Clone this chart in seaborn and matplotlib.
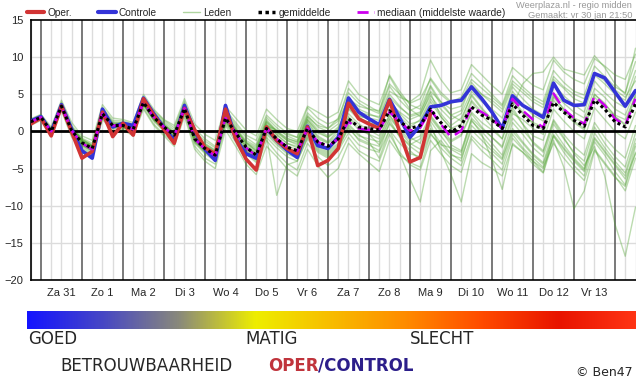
"""Pluim (ensemble) temperatuurverwachting, regio midden."""

import matplotlib

matplotlib.use("Agg")
import matplotlib.pyplot as plt
import numpy as np
import pandas as pd
import seaborn as sns
from matplotlib.colors import LinearSegmentedColormap
from matplotlib.lines import Line2D

# 6-uurlijkse stappen, stap 0 = vr 30 jan 18u
steps = list(range(60))
day_labels = ["Za 31", "Zo 1", "Ma 2", "Di 3", "Wo 4", "Do 5", "Vr 6",
              "Za 7", "Zo 8", "Ma 9", "Di 10", "Wo 11", "Do 12", "Vr 13"]

oper = [1.0, 1.8, -0.6, 3.4, -0.1, -3.6, -2.7, 2.6, -0.7, 1.1,
        -0.5, 4.4, 2.2, 0.3, -1.6, 3.1, 0.2, -2.2, -3.0, 3.0,
        -1.0, -3.7, -5.2, 0.6, -1.2, -2.3, -3.0, 0.6, -4.6, -3.9,
        -2.3, 3.8, 1.7, 1.0, 0.4, 4.2, -0.1, -4.1, -3.5, 2.4]
controle = [1.4, 2.0, -0.1, 3.6, 0.3, -2.6, -3.6, 3.0, 0.6, 1.1,
            0.8, 4.5, 2.4, 0.5, -1.2, 3.5, 0.0, -2.4, -3.9, 3.5,
            -1.0, -3.0, -3.6, 0.4, -1.2, -2.5, -3.5, 0.7, -1.9, -2.3,
            -0.8, 4.5, 2.6, 1.7, 0.9, 4.3, 1.8, -0.8, 0.8, 3.3,
            3.5, 4.0, 4.2, 6.0, 4.4, 2.6, 0.4, 4.8, 3.5, 2.7,
            1.9, 6.5, 4.2, 3.5, 3.6, 7.8, 7.2, 5.3, 3.4, 5.5]
gemiddelde = [1.3, 1.9, 0.0, 3.4, 0.1, -1.5, -2.3, 2.4, 0.8, 0.8,
              0.3, 3.9, 1.9, 0.6, -0.5, 3.1, -1.0, -2.3, -3.2, 1.8,
              -0.2, -2.1, -3.2, 0.4, -1.0, -2.1, -2.6, 0.4, -1.4, -2.0,
              -1.0, 1.7, 0.6, 0.4, 0.2, 2.8, 1.3, 0.4, 0.8, 3.0,
              1.2, -0.1, 0.8, 3.3, 2.2, 1.5, 0.4, 3.7, 2.2, 0.8,
              0.4, 3.9, 2.6, 1.5, 0.7, 4.2, 3.0, 1.3, 0.6, 3.7]
mediaan = [1.3, 1.9, 0.0, 3.4, 0.1, -1.6, -2.4, 2.4, 0.8, 0.8,
           0.3, 3.9, 1.9, 0.6, -0.6, 3.1, -1.0, -2.4, -3.3, 1.8,
           -0.2, -2.2, -3.3, 0.4, -1.0, -2.1, -2.6, 0.4, -1.4, -2.0,
           -1.0, 1.3, 0.4, 0.2, 0.2, 2.6, 1.3, 0.1, 0.5, 2.9,
           1.0, -0.8, 0.1, 3.3, 2.6, 1.7, 0.4, 4.4, 2.8, 1.6,
           0.5, 5.1, 3.0, 1.8, 1.0, 4.8, 3.5, 1.7, 0.8, 4.4]

lid_01 = [1.6, 2.2, 0.4, 3.9, 0.8, -0.9, -1.6, 3.2, 1.5, 1.4,
          1.0, 4.6, 2.8, 1.5, 0.5, 4.0, 0.4, -1.0, -2.0, 3.0,
          1.2, -0.5, -1.2, 2.2, 0.9, -0.2, -0.8, 2.5, 1.2, 0.4,
          1.8, 5.2, 3.8, 3.0, 2.4, 6.1, 4.2, 2.8, 3.5, 7.2,
          5.3, 4.0, 4.6, 7.8, 6.4, 5.0, 3.6, 7.5, 6.0, 4.8,
          4.0, 8.2, 6.6, 5.4, 4.9, 8.8, 7.4, 6.0, 5.2, 9.4]
lid_02 = [1.0, 1.6, -0.4, 3.0, -0.5, -2.2, -3.0, 1.8, 0.2, 0.3,
          -0.3, 3.2, 1.0, -0.4, -1.6, 2.4, -2.0, -3.6, -4.4, 0.8,
          -1.5, -3.8, -5.0, -1.2, -2.9, -4.3, -5.2, -1.6, -3.4, -4.6,
          -3.5, -0.8, -2.6, -3.4, -4.0, -0.4, -2.8, -4.5, -5.2, -1.2,
          -3.0, -4.6, -5.5, -1.0, -2.6, -3.8, -5.2, -0.9, -2.4, -4.0,
          -5.5, -0.6, -2.8, -4.6, -6.0, -1.4, -3.2, -5.4, -7.2, -2.0]
lid_03 = [1.2, 2.0, 0.2, 3.6, 0.4, -1.2, -2.0, 2.8, 1.0, 1.0,
          0.5, 4.2, 2.2, 0.8, -0.2, 3.4, -0.6, -1.9, -2.8, 2.2,
          0.3, -1.5, -2.6, 1.0, -0.5, -1.6, -2.2, 1.4, -0.6, -1.4,
          0.2, 3.4, 1.8, 1.2, 0.6, 4.0, 2.0, 0.6, 1.6, 4.4,
          2.4, 0.8, 1.8, 4.8, 3.0, 1.6, 0.2, 3.2, 1.0, -1.6,
          -2.8, 1.4, -0.8, -3.0, -4.6, -2.0, -6.0, -12.5, -16.8, -10.2]
lid_04 = [1.5, 2.1, 0.2, 3.8, 0.5, -1.0, -1.9, 2.9, 1.3, 1.2,
          0.7, 4.3, 2.4, 1.1, -0.1, 3.6, -0.4, -1.6, -2.5, 2.6,
          0.6, -1.2, -2.0, 1.6, 0.1, -0.9, -1.4, 1.9, 0.2, -0.6,
          0.6, 3.1, 2.0, 1.8, 1.5, 4.6, 3.2, 2.2, 2.6, 5.4,
          4.0, 3.0, 3.4, 6.2, 5.0, 4.2, 3.0, 6.4, 5.2, 4.0,
          3.2, 7.0, 5.8, 4.4, 3.8, 7.6, 6.4, 5.0, 4.2, 8.2]
lid_05 = [1.1, 1.7, -0.2, 3.2, -0.2, -1.8, -2.6, 2.2, 0.5, 0.6,
          0.0, 3.6, 1.6, 0.2, -1.0, 2.8, -1.4, -2.8, -3.8, 1.2,
          -0.8, -3.0, -4.2, -0.6, -8.6, -4.5, -4.0, -0.8, -2.6, -3.4,
          -2.4, 0.6, -1.2, -1.8, -2.6, 1.2, -0.6, -2.0, -3.0, 1.4,
          -0.6, -2.4, -3.2, 1.4, 0.0, -1.6, -3.2, 1.2, -0.4, -2.2,
          -3.4, 1.0, -1.0, -2.8, -4.0, 0.6, -1.6, -3.4, -4.8, -0.2]
lid_06 = [1.4, 2.0, 0.0, 3.5, 0.2, -1.3, -2.1, 2.6, 0.9, 0.9,
          0.4, 4.0, 2.0, 0.7, -0.4, 3.2, -0.8, -2.1, -3.0, 2.0,
          0.0, -1.8, -2.8, 0.9, -0.4, -1.6, -2.0, 1.2, -0.8, -1.5,
          -0.2, 4.0, 2.6, 2.2, 2.0, 5.4, 4.6, 4.0, 5.0, 9.6,
          7.0, 5.2, 5.6, 9.0, 7.6, 6.2, 5.0, 8.6, 7.4, 6.2,
          5.6, 9.6, 8.0, 7.0, 6.4, 9.8, 8.8, 7.6, 7.0, 10.4]
lid_07 = [1.2, 1.8, -0.1, 3.3, 0.0, -1.6, -2.4, 2.3, 0.7, 0.7,
          0.2, 3.8, 1.8, 0.4, -0.8, 3.0, -1.2, -2.5, -3.4, 1.6,
          -0.5, -2.4, -3.6, 0.0, -1.4, -2.6, -3.2, 0.0, -2.0, -2.8,
          -1.8, 1.0, -0.4, -1.4, -3.6, 0.2, -3.0, -6.4, -9.5, -2.6,
          -1.2, -3.0, -4.0, 0.8, -0.6, -2.2, -3.6, 0.4, -1.4, -3.0,
          -4.2, 0.2, -1.8, -3.6, -5.0, -0.2, -2.2, -4.0, -5.6, -1.0]
lid_08 = [1.3, 1.9, 0.1, 3.5, 0.3, -1.4, -2.2, 2.5, 0.9, 0.8,
          0.3, 3.9, 1.9, 0.5, -0.6, 3.0, -1.0, -2.4, -3.2, 1.9,
          -0.2, -2.2, -3.0, 0.6, -0.8, -2.0, -2.4, 0.8, -1.0, -1.6,
          -0.6, 2.4, 1.0, 0.2, -0.6, 2.2, 0.0, -1.6, -2.4, 1.0,
          -2.6, -5.8, -9.5, -3.0, -4.2, -5.0, -6.0, -1.8, -2.8, -4.0,
          -5.0, -0.4, -2.2, -3.8, -5.2, -0.8, -2.6, -4.4, -6.0, -1.6]
lid_09 = [1.2, 1.9, 0.1, 3.4, 0.1, -1.5, -2.4, 2.5, 0.8, 0.9,
          0.2, 3.8, 1.8, 0.6, -0.6, 3.1, -1.0, -2.2, -3.1, 1.7,
          -0.4, -2.0, -3.0, 0.6, -1.2, -2.2, -2.8, 0.2, -1.8, -2.4,
          -1.2, 1.8, 0.2, -0.4, -1.0, 2.2, 0.4, -0.8, -1.6, 2.0,
          0.2, -1.8, -2.6, 1.6, -0.4, -3.8, -7.8, -1.6, -2.8, -4.4,
          -5.6, -1.2, -4.8, -10.4, -8.0, -2.6, -4.4, -6.2, -7.4, -2.8]
lid_10 = [1.3, 2.0, 0.3, 3.7, 0.6, -1.1, -1.8, 3.0, 1.2, 1.1,
          0.8, 4.4, 2.6, 1.3, 0.2, 3.8, 0.0, -1.3, -2.2, 2.8,
          0.9, -0.8, -1.8, 1.9, 0.5, -0.6, -1.2, 2.2, 0.6, 0.0,
          1.0, 4.6, 3.0, 2.4, 1.8, 5.0, 3.4, 2.0, 2.4, 6.0,
          3.6, 2.2, 2.8, 6.6, 5.0, 3.8, 2.6, 6.0, 4.4, 3.0,
          2.2, 6.4, 4.8, 3.6, 2.6, 6.8, 5.2, 4.0, 3.2, 7.4]
lid_11 = [1.1, 1.8, -0.2, 3.2, -0.1, -1.7, -2.5, 2.2, 0.6, 0.6,
          0.1, 3.7, 1.6, 0.3, -0.9, 2.9, -1.3, -2.6, -3.6, 1.4,
          -0.7, -2.6, -3.8, -0.2, -1.6, -2.8, -3.4, -0.4, -2.2, -3.0,
          -2.0, 0.8, -0.6, -1.0, -1.4, 1.8, 0.2, -1.2, -0.6, 2.2,
          0.4, -1.2, -0.4, 2.6, 1.2, 0.2, -1.0, 2.8, 1.0, -0.6,
          -1.2, 3.0, 1.4, 0.0, -1.0, 3.2, 1.6, 0.0, -1.0, 2.6]
lid_12 = [1.5, 2.1, 0.2, 3.6, 0.4, -1.2, -2.0, 2.7, 1.0, 1.0,
          0.6, 4.1, 2.2, 0.9, -0.3, 3.4, -0.6, -1.8, -2.7, 2.3,
          0.3, -1.5, -2.4, 1.2, -0.2, -1.2, -1.8, 1.6, -0.2, -0.8,
          0.2, 3.0, 1.6, 1.2, 0.8, 3.8, 2.6, 1.6, 2.2, 4.8,
          3.0, 1.6, 2.4, 5.4, 4.0, 3.0, 1.8, 5.4, 3.6, 2.2,
          1.4, 5.2, 3.8, 2.6, 1.8, 5.8, 4.6, 3.0, 2.2, 5.6]
lid_13 = [1.0, 1.7, -0.3, 3.1, -0.3, -2.0, -2.8, 2.0, 0.4, 0.5,
          -0.1, 3.5, 1.4, 0.0, -1.2, 2.6, -1.6, -3.0, -4.0, 1.0,
          -1.0, -2.8, -3.8, -0.8, -2.2, -3.4, -4.0, -1.0, -2.8, -3.6,
          -2.6, -0.2, -1.8, -2.4, -2.8, 0.2, -1.6, -3.0, -3.4, 0.4,
          -1.6, -3.2, -3.6, 0.2, -1.2, -2.6, -3.8, 0.0, -1.6, -3.2,
          -4.4, -0.6, -2.4, -4.0, -5.4, -1.0, -2.8, -4.6, -6.4, -3.0]
lid_14 = [1.4, 1.9, 0.1, 3.5, 0.3, -1.3, -2.1, 2.6, 0.8, 1.0,
          0.5, 4.1, 2.0, 0.8, -0.3, 3.3, -0.8, -2.0, -2.9, 2.1,
          0.2, -1.6, -2.6, 1.3, 0.0, -1.0, -1.4, 2.0, 0.8, 0.4,
          1.4, 4.4, 3.4, 3.0, 2.8, 6.4, 5.0, 3.8, 4.4, 7.0,
          5.0, 3.8, 4.2, 7.0, 5.8, 4.6, 3.4, 6.8, 5.6, 4.4,
          3.6, 7.4, 6.0, 5.0, 4.4, 7.8, 6.8, 5.6, 4.6, 6.8]
lid_15 = [1.7, 2.3, 0.6, 4.2, 1.2, -0.6, -1.2, 3.6, 1.8, 1.6,
          1.2, 5.0, 3.0, 1.6, 0.8, 4.4, 1.0, -0.4, -1.2, 3.4,
          1.8, 0.2, -0.6, 3.0, 1.6, 0.4, 0.0, 3.4, 2.6, 1.8,
          2.6, 6.8, 5.0, 4.2, 3.6, 7.4, 5.0, 3.0, 2.0, 5.2,
          2.0, 0.4, 0.0, 4.0, 2.2, 0.6, -1.0, 3.4, 6.4, 7.8,
          8.0, 10.0, 8.4, 8.0, 7.6, 10.2, 8.6, 6.4, 5.0, 11.2]
lid_16 = [0.8, 1.5, -0.6, 2.8, -0.8, -2.4, -3.2, 1.6, 0.0, 0.2,
          -0.6, 3.0, 0.8, -0.6, -2.0, 2.0, -2.4, -4.0, -5.0, 0.2,
          -2.0, -4.4, -5.8, -2.0, -3.4, -5.0, -6.0, -2.4, -4.6, -6.2,
          -5.0, -1.6, -3.0, -4.2, -5.4, -1.2, -3.2, -4.2, -4.8, -0.4,
          -1.8, -2.2, -2.8, 1.8, 0.4, -0.8, -2.0, 2.4, 1.6, 0.4,
          -0.4, 4.2, 2.6, 1.2, 0.2, 4.6, 3.2, 2.0, 1.0, 5.0]
lid_17 = [1.3, 1.8, 0.0, 3.3, 0.2, -1.5, -2.2, 2.4, 0.7, 0.8,
          0.2, 3.8, 1.8, 0.5, -0.5, 3.2, -0.9, -2.2, -3.0, 1.9,
          -0.1, -2.0, -3.0, 0.8, 0.2, -0.4, -0.8, 3.2, 1.8, 1.0,
          1.6, 5.8, 4.2, 3.4, 2.6, 7.6, 5.4, 3.6, 3.0, 6.2,
          4.0, 2.2, 1.4, 5.0, 3.2, 1.6, 0.4, 4.4, 2.6, 1.0,
          0.2, 4.8, 3.0, 1.4, 0.4, 5.0, 3.8, 2.0, 0.8, 4.6]
lid_18 = [1.2, 1.9, -0.1, 3.3, 0.0, -1.8, -2.6, 2.2, 0.6, 0.7,
          0.1, 3.7, 1.7, 0.4, -0.8, 2.9, -1.2, -2.6, -3.4, 1.5,
          -0.6, -2.6, -3.6, 0.2, -1.2, -2.4, -3.0, 0.2, -1.6, -2.6,
          -1.6, 2.0, 0.6, -0.4, -1.8, 1.6, -0.8, -2.6, -3.8, -0.2,
          -2.2, -3.6, -4.6, -0.6, -2.0, -3.0, -4.4, -0.4, -2.2, -3.6,
          -4.8, -1.6, -3.6, -5.2, -6.6, -2.4, -4.2, -6.0, -8.0, -3.6]
lid_19 = [1.4, 2.1, 0.3, 3.7, 0.5, -1.1, -1.9, 2.8, 1.1, 1.1,
          0.6, 4.2, 2.3, 1.0, -0.2, 3.5, -0.5, -1.7, -2.6, 2.4,
          0.4, -1.4, -2.2, 1.4, 0.0, -1.2, -1.6, 1.6, 0.0, -0.8,
          0.4, 3.6, 2.2, 1.6, 1.0, 4.2, 2.4, 1.0, 1.4, 4.0,
          2.0, 0.4, 1.0, 4.2, 2.6, 1.4, 0.4, 4.0, 2.4, 1.2,
          0.6, 4.6, 3.0, 1.8, 1.2, 5.0, 3.6, 2.2, 1.6, 4.8]
lid_20 = [1.0, 1.8, -0.2, 3.2, -0.2, -1.9, -2.6, 2.1, 0.5, 0.5,
          0.0, 3.6, 1.5, 0.2, -1.0, 2.8, -1.4, -2.8, -3.6, 1.4,
          -0.8, -2.8, -4.0, -0.4, -1.8, -3.0, -3.6, -0.6, -2.4, -3.2,
          -2.2, 0.4, -1.0, -1.6, -2.0, 1.0, -0.6, -1.8, -1.0, 1.8,
          0.0, -1.4, -0.6, 2.4, 0.6, -0.8, -2.2, 1.8, 0.2, -1.4,
          -2.6, 1.6, -0.4, -2.0, -3.2, 1.2, -0.8, -2.4, -3.6, 0.8]
leden = [lid_01, lid_02, lid_03, lid_04, lid_05, lid_06, lid_07,
         lid_08, lid_09, lid_10, lid_11, lid_12, lid_13, lid_14,
         lid_15, lid_16, lid_17, lid_18, lid_19, lid_20]

# kleurverloop betrouwbaarheid
bar_colors = ["#1414ff", "#4848c4", "#8a8a7a", "#eeee00", "#f8bc00",
              "#ff8a00", "#ff4a00", "#e81400", "#ff3414"]

RED = "#d23434"
BLUE = "#3434d8"
GREEN = "#4ea22e"
MAGENTA = "#cc00ee"

sns.set_style("white")
plt.rcParams["font.family"] = ["Liberation Sans", "DejaVu Sans"]

W, H = 636, 381
fig = plt.figure(figsize=(W / 100, H / 100), dpi=100)
ax = fig.add_axes([30.7 / W, 1 - 280 / H, (635.5 - 30.7) / W, 260 / H])

# rasterlijnen
for s in steps:
    if s % 4 == 1:
        ax.axvline(s, color="#555555", lw=1.1, zorder=1)
    else:
        ax.axvline(s, color="#dcdcdc", lw=1.0, zorder=0)
for v in [-15, -10, -5, 5, 10]:
    ax.axhline(v, color="#dcdcdc", lw=1.0, zorder=0)

df_leden = pd.DataFrame(
    [(s, v, i) for i, lid in enumerate(leden) for s, v in zip(steps, lid)],
    columns=["stap", "temp", "lid"],
)
sns.lineplot(data=df_leden, x="stap", y="temp", units="lid", estimator=None,
             color=GREEN, lw=1.0, alpha=0.38, legend=False, ax=ax, zorder=2)

ax.axhline(0, color="black", lw=2.0, zorder=3)

sns.lineplot(x=steps, y=controle, color=BLUE, lw=2.6, ax=ax, zorder=4)
sns.lineplot(x=steps[:len(oper)], y=oper, color=RED, lw=2.6, ax=ax, zorder=5)
sns.lineplot(x=steps, y=mediaan, color=MAGENTA, lw=1.8, ax=ax, zorder=6,
             linestyle=(0, (5, 3)))
sns.lineplot(x=steps, y=gemiddelde, color="black", lw=2.2, ax=ax, zorder=7,
             linestyle=(0, (1, 1)))

ax.set_xlim(0, 59)
ax.set_ylim(-20, 15)
ax.set_yticks([15, 10, 5, 0, -5, -10, -15, -20])
ax.set_xticks(steps)
label_pos = {3 + 4 * k: lab for k, lab in enumerate(day_labels)}
ax.set_xticklabels([label_pos.get(s, "") for s in steps])
ax.tick_params(axis="both", length=3, width=1, color="black", labelsize=8,
               pad=2, direction="out")
ax.tick_params(axis="x", pad=3)
ax.set_xlabel("")
ax.set_ylabel("")
for side in ["left", "bottom", "top"]:
    ax.spines[side].set_color("black")
    ax.spines[side].set_linewidth(1.2)
ax.spines["right"].set_visible(False)

handles = [
    Line2D([], [], color=RED, lw=3),
    Line2D([], [], color=BLUE, lw=3),
    Line2D([], [], color=GREEN, lw=1, alpha=0.45),
    Line2D([], [], color="black", lw=2.5, linestyle=(0, (1, 1))),
    Line2D([], [], color=MAGENTA, lw=2, linestyle=(0, (4, 2))),
]
names = ["Oper.", "Controle", "Leden", "gemiddelde", "mediaan (middelste waarde)"]
fig.legend(handles, names, loc="center left", bbox_to_anchor=(27 / W, 1 - 13 / H),
           ncol=5, frameon=False, fontsize=7.3, handlelength=1.7,
           handletextpad=0.3, columnspacing=2.6, borderpad=0, borderaxespad=0)

fig.text(632 / W, 1 - 5 / H, "Weerplaza.nl - regio midden", ha="right",
         va="center", fontsize=6.7, color="#999999")
fig.text(632 / W, 1 - 15 / H, "Gemaakt: vr 30 jan 21:50", ha="right",
         va="center", fontsize=6.7, color="#999999")

# betrouwbaarheidsbalk
bax = fig.add_axes([27 / W, 1 - 329 / H, (636 - 27) / W, 18 / H])
cmap = LinearSegmentedColormap.from_list("betrouwbaarheid", bar_colors)
bax.imshow(np.linspace(0, 1, 256)[None, :], aspect="auto", cmap=cmap)
bax.set_axis_off()

fig.text(28 / W, 1 - 339 / H, "GOED", fontsize=12, va="center",
         family="DejaVu Sans")
fig.text(245 / W, 1 - 339 / H, "MATIG", fontsize=12, va="center",
         family="DejaVu Sans")
fig.text(410 / W, 1 - 339 / H, "SLECHT", fontsize=12, va="center",
         family="DejaVu Sans")
fig.text(60 / W, 1 - 366 / H, "BETROUWBAARHEID", fontsize=12, va="center",
         family="DejaVu Sans")
fig.text(268 / W, 1 - 366 / H, "OPER", fontsize=12, va="center",
         family="DejaVu Sans", weight="bold", color="#c0343c")
fig.text(318 / W, 1 - 366 / H, "/CONTROL", fontsize=12, va="center",
         family="DejaVu Sans", weight="bold", color="#2c1e8a")
fig.text(633 / W, 1 - 372 / H, "\u00a9 Ben47", fontsize=9, va="center",
         ha="right", family="DejaVu Sans")

fig.savefig("out.png", dpi=100)
